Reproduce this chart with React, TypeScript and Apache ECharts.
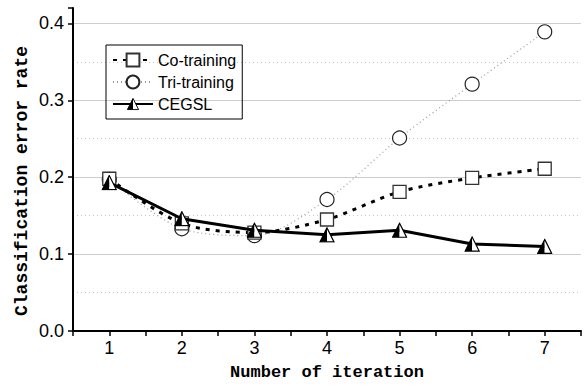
import React, { useEffect, useRef } from "react";
import * as echarts from "echarts";

const iterations = [1, 2, 3, 4, 5, 6, 7];
const coTraining = [0.198, 0.14, 0.128, 0.145, 0.181, 0.199, 0.211];
const triTraining = [0.197, 0.133, 0.124, 0.171, 0.251, 0.321, 0.389];
const cegsl = [0.193, 0.146, 0.131, 0.125, 0.131, 0.113, 0.11];
const seriesNames = ["Co-training", "Tri-training", "CEGSL"];
const yTitle = "Classification error rate";
const xTitle = "Number of iteration";

const triSvg =
  "<svg xmlns='http://www.w3.org/2000/svg' width='16' height='16' viewBox='0 0 16 16'>" +
  "<polygon points='8,1 1,15 8,15' fill='black'/>" +
  "<polygon points='8,1 15,15 8,15' fill='white'/>" +
  "<polygon points='8,1 1,15 15,15' fill='none' stroke='black' stroke-width='1.2' stroke-linejoin='miter'/>" +
  "</svg>";
const triSymbol = "image://data:image/svg+xml;charset=utf-8," + encodeURIComponent(triSvg);

export default function App() {
  const ref = useRef<HTMLDivElement>(null);
  useEffect(() => {
    if (!ref.current) return;
    const chart = echarts.init(ref.current, null, { renderer: "svg" });
    const pair = (arr: number[]) => iterations.map((x, i) => [x, arr[i]]);
    chart.setOption({
      animation: false,
      backgroundColor: "#fff",
      grid: { left: 73, right: 1, top: 8, bottom: 56, containLabel: false },
      graphic: [
        {
          type: "text",
          x: 22,
          y: 181,
          rotation: Math.PI / 2,
          style: {
            text: yTitle,
            align: "center",
            verticalAlign: "middle",
            fontFamily: "Liberation Mono, monospace",
            fontWeight: "bold",
            fontSize: 18,
            fill: "#000",
          },
        },
      ],
      legend: {
        left: 106,
        top: 45,
        orient: "vertical",
        padding: [7, 6, 7, 6],
        borderColor: "#000",
        borderWidth: 1,
        itemWidth: 40,
        itemHeight: 16,
        itemGap: 6,
        textStyle: { fontFamily: "Liberation Sans, Arial", fontSize: 16, color: "#000" },
        data: seriesNames,
      },
      xAxis: {
        type: "value",
        min: 0.5,
        max: 7.5,
        interval: 0.5,
        name: xTitle,
        nameLocation: "middle",
        nameGap: 33,
        nameTextStyle: {
          fontFamily: "Liberation Mono, monospace",
          fontWeight: "bold",
          fontSize: 17,
          color: "#000",
        },
        axisLine: { lineStyle: { color: "#000", width: 2 } },
        axisTick: { length: 5, lineStyle: { color: "#000", width: 1.5 } },
        axisLabel: {
          margin: 8,
          fontFamily: "Liberation Sans, Arial",
          fontSize: 18,
          color: "#000",
          formatter: (v: number) => (Number.isInteger(v) ? String(v) : ""),
        },
        splitLine: { show: false },
      },
      yAxis: [
        {
          type: "value",
          min: 0,
          max: 0.42,
          interval: 0.1,
          position: "left",
          axisLine: { show: true, lineStyle: { color: "#000", width: 2 } },
          axisTick: {
            show: true,
            length: 5,
            lineStyle: { color: "#000", width: 1.5 },
          },
          axisLabel: {
            margin: 9,
            fontFamily: "Liberation Sans, Arial",
            fontSize: 18,
            color: "#000",
            formatter: (v: number) => {
              const r = Math.round(v * 10) / 10;
              return Math.abs(r - v) < 1e-9 ? r.toFixed(1) : "";
            },
          },
          splitLine: {
            show: true,
            showMinLine: false,
            showMaxLine: false,
            lineStyle: { color: "#cfcfcf", width: 1, type: "solid" },
          },
        },
        {
          type: "value",
          min: 0,
          max: 0.42,
          interval: 0.05,
          position: "left",
          axisLine: { show: false },
          axisTick: { show: false },
          axisLabel: { show: false },
          splitLine: {
            show: true,
            showMinLine: false,
            showMaxLine: false,
            lineStyle: { color: "#c8c8c8", width: 1, type: [1, 3] },
          },
        },
      ],
      series: [
        {
          name: seriesNames[0],
          type: "line",
          data: pair(coTraining),
          smooth: 0.3,
          symbol: "rect",
          symbolSize: 13,
          itemStyle: { color: "#fff", borderColor: "#333", borderWidth: 1.3 },
          lineStyle: { color: "#000", width: 3, type: [4, 6] },
          z: 3,
        },
        {
          name: seriesNames[1],
          type: "line",
          data: pair(triTraining),
          smooth: 0.3,
          symbol: "circle",
          symbolSize: 14,
          itemStyle: { color: "#fff", borderColor: "#222", borderWidth: 1.2 },
          lineStyle: { color: "#999", width: 1.2, type: [1, 3] },
          z: 2,
        },
        {
          name: seriesNames[2],
          type: "line",
          data: pair(cegsl),
          symbol: triSymbol,
          symbolSize: 16,
          itemStyle: { color: "#000" },
          lineStyle: { color: "#000", width: 3, type: "solid" },
          z: 4,
        },
      ],
    });
    return () => chart.dispose();
  }, []);
  return <div ref={ref} style={{ width: 584, height: 387, position: "absolute", left: 0, top: 0 }} />;
}
